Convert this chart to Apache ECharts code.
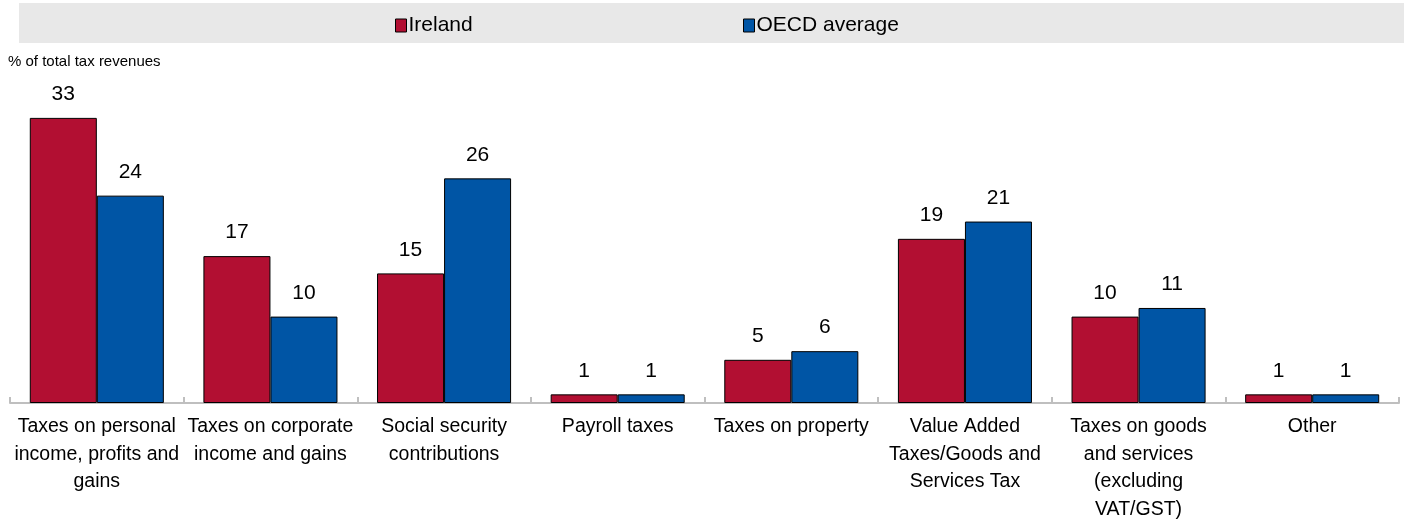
<!DOCTYPE html>
<html><head><meta charset="utf-8">
<script src="https://cdn.jsdelivr.net/npm/echarts@6/dist/echarts.min.js"></script>
<style>html,body{margin:0;padding:0;background:#fff}#c{width:1404px;height:519px}</style>
</head><body><div id="c"></div>
<script>
const categories = [
  "Taxes on personal\nincome, profits and\ngains",
  "Taxes on corporate\nincome and gains",
  "Social security\ncontributions",
  "Payroll taxes",
  "Taxes on property",
  "Value Added\nTaxes/Goods and\nServices Tax",
  "Taxes on goods\nand services\n(excluding\nVAT/GST)",
  "Other"
];
const ireland = [33, 17, 15, 1, 5, 19, 10, 1];
const oecd = [24, 10, 26, 1, 6, 21, 11, 1];
const FONT = "'Liberation Sans', Arial, sans-serif";
const chart = echarts.init(document.getElementById('c'), null, {renderer: 'canvas'});
const lbl = {show: true, position: 'top', distance: 13, color: '#000', fontSize: 21, fontFamily: FONT};
const legendBase = {
  top: 10, itemWidth: 11, itemHeight: 13, icon: 'rect',
  textStyle: {fontSize: 21, fontFamily: FONT, color: '#000', padding: [0, 0, 0, -3]}
};
chart.setOption({
  animation: false,
  graphic: [{type: 'rect', shape: {x: 19, y: 3, width: 1385, height: 40}, style: {fill: '#E8E8E8'}, z: -1}],
  legend: [
    Object.assign({}, legendBase, {left: 390, data: [{name: 'Ireland', itemStyle: {borderColor: '#000', borderWidth: 1}}]}),
    Object.assign({}, legendBase, {left: 738, data: [{name: 'OECD average', itemStyle: {borderColor: '#000', borderWidth: 1}}]})
  ],
  grid: {left: 10, right: 5, top: 57.4, bottom: 116, containLabel: false, outerBoundsMode: 'none'},
  xAxis: {
    type: 'category', data: categories,
    axisLine: {lineStyle: {color: '#BFBFBF', width: 2}},
    axisTick: {show: true, inside: true, length: 6, lineStyle: {color: '#BFBFBF', width: 2}},
    axisLabel: {interval: 0, margin: 10, color: '#000', fontSize: 19.5, lineHeight: 27.5, fontFamily: FONT, align: 'center'}
  },
  yAxis: {
    type: 'value', min: 0, max: 40, show: true,
    name: '% of total tax revenues', nameLocation: 'end', nameGap: -12,
    nameTextStyle: {align: 'left', color: '#000', fontSize: 15, fontFamily: FONT, padding: [0, 0, 0, -2]},
    axisLine: {show: false}, axisTick: {show: false}, axisLabel: {show: false}, splitLine: {show: false}
  },
  series: [
    {name: 'Ireland', type: 'bar', data: ireland, barGap: '0%', barCategoryGap: '22.8%',
     itemStyle: {color: '#B20F32', borderColor: '#000', borderWidth: 1}, label: lbl},
    {name: 'OECD average', type: 'bar', data: oecd, barGap: '0%', barCategoryGap: '22.8%',
     itemStyle: {color: '#0055A5', borderColor: '#000', borderWidth: 1}, label: lbl}
  ]
});
</script></body></html>
